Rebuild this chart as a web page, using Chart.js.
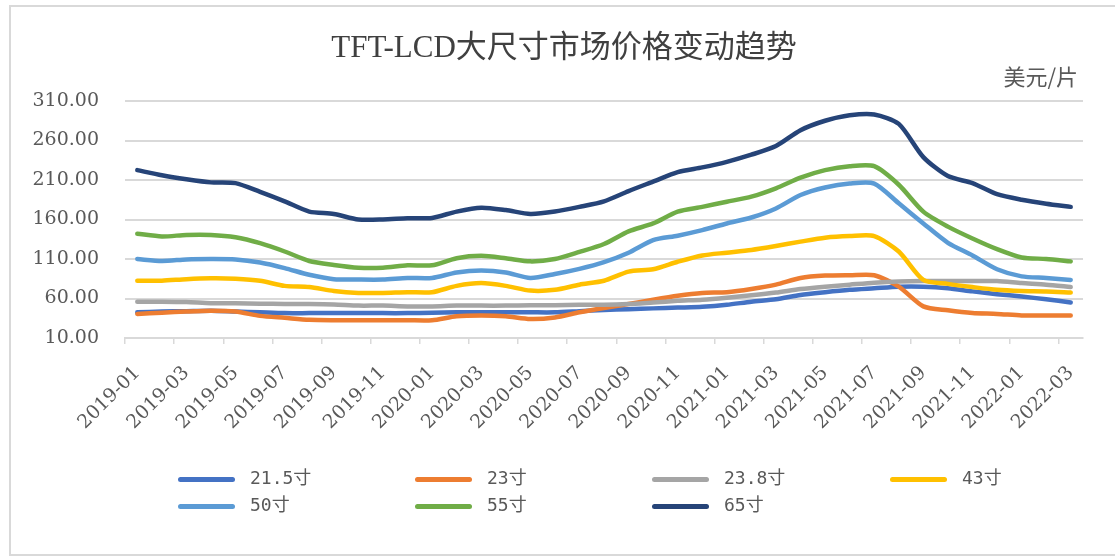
<!DOCTYPE html>
<html>
<head>
<meta charset="utf-8">
<script src="https://cdn.jsdelivr.net/npm/chart.js@4.4.0/dist/chart.umd.min.js"></script>
<style>
  body { margin: 0; background: #fff; }
  #wrap { position: relative; width: 1115px; height: 557px; overflow: hidden; }
  #frame { position: absolute; left: 9px; top: 5px; right: -10px; bottom: 1px; border: 2px solid #d9d9d9; }
  canvas { position: absolute; left: 0; top: 0; }
  #title { position: absolute; left: 0; width: 1128px; top: 29px; text-align: center; font: 31px "Liberation Serif", "Noto Sans CJK SC", serif; line-height: 36px; color: #404040; }
  #unit { position: absolute; right: 37px; top: 61px; font: 22px "Noto Sans CJK SC", sans-serif; line-height: 28px; color: #595959; }
  .leg { position: absolute; font: 18px "DejaVu Sans Mono", "Noto Sans CJK SC", monospace; color: #595959; white-space: nowrap; line-height: 24px; }
  .leg i { display: inline-block; width: 57px; height: 5px; border-radius: 3px; vertical-align: middle; margin-right: 15px; }
</style>
</head>
<body>
<div id="wrap">
  <div id="frame"></div>
  <canvas id="chart" width="1115" height="557"></canvas>
  <div id="title">TFT-LCD大尺寸市场价格变动趋势</div>
  <div id="unit">美元/片</div>
  <div id="legend"></div>
</div>
<script>
// months 2019-01 .. 2022-03
const months = [];
for (let y = 2019; y <= 2022; y++) {
  for (let m = 1; m <= 12; m++) {
    if (y === 2022 && m > 3) break;
    months.push(y + '-' + String(m).padStart(2, '0'));
  }
}

const seriesNames = ['21.5寸', '23寸', '23.8寸', '43寸', '50寸', '55寸', '65寸'];
const seriesColors = ['#4472C4', '#ED7D31', '#A5A5A5', '#FFC000', '#5B9BD5', '#70AD47', '#264478'];

const s215 = [42.5, 43.5, 44, 44.5, 43.5, 42.5, 41.5, 41.5, 41.5, 41.5, 41.5, 41.5, 42, 42.5, 42.5, 42.5, 42.5, 42.5, 44, 45.5, 46.5, 47.5, 48.5, 49.5, 52, 56, 59, 64.5, 68, 71, 73, 75, 75, 73, 69, 65.5, 62.5, 59, 55];
const s23 = [40.5, 42, 43.5, 44.5, 43.5, 38, 35.5, 33, 32.5, 32.5, 32.5, 32.5, 32.5, 37.5, 38.5, 37.5, 34, 36, 42.5, 48, 53, 58.5, 63.5, 67, 68, 72, 77.5, 86, 89, 89.5, 89.5, 75, 50, 45, 41.5, 40.5, 38.5, 38.5, 38.5];
const s238 = [56, 56, 55.5, 54, 54, 53.5, 53, 53, 52.5, 51, 51, 50, 50, 51, 51, 51, 51.5, 51.5, 52, 52, 53, 55, 57, 58.5, 61, 64, 67.5, 72, 75, 77.5, 80, 81.5, 82, 82, 82, 82, 79.5, 77.5, 74.5];
const s43 = [82.5, 82.5, 84.5, 85.5, 85, 82.5, 76, 74.5, 69.5, 67, 67, 68, 68, 76, 79.5, 76, 70, 71, 77.5, 82.5, 94, 97, 106.5, 114.5, 118, 121.5, 126.5, 132, 137, 139, 139, 119.5, 83.5, 78.5, 74.5, 71, 69.5, 69, 67.5];
const s50 = [110, 107.5, 109.5, 110, 109.5, 105.5, 98.5, 90, 84.5, 84, 84, 86, 86, 93, 95.5, 93, 86, 91, 97.5, 106, 118, 134, 139.5, 146.5, 155, 162.5, 174, 191, 200.5, 205.5, 205.5, 180.5, 155, 130.5, 114.5, 97, 88, 86, 83.5];
const s55 = [142, 138.5, 140.5, 140.5, 137.5, 130, 119.5, 107.5, 102.5, 99, 99, 102, 102, 111, 114, 111, 107, 110, 119, 129, 145, 155, 170, 176, 182.5, 189, 199.5, 213, 222.5, 227.5, 227.5, 204, 170, 151, 136, 122.5, 112, 110, 107];
const s65 = [222.5, 216, 211, 207, 206, 195, 183, 170, 167, 160, 160, 161.5, 162, 170, 175, 172, 167, 170, 176, 183, 196, 208, 220, 226, 233, 242, 253, 273, 285, 292, 293, 281, 239, 215, 206, 192, 185, 180, 176];

const seriesData = [s215, s23, s238, s43, s50, s55, s65];
const yTicks = [10, 60, 110, 160, 210, 260, 310];

const datasets = seriesData.map((d, i) => ({
  label: seriesNames[i],
  data: d,
  borderColor: seriesColors[i],
  backgroundColor: seriesColors[i],
  borderWidth: 4.5,
  pointRadius: 0,
  tension: 0.25,
  borderCapStyle: 'round',
  borderJoinStyle: 'round',
  order: seriesData.length - 1 - i
}));

const ctx = document.getElementById('chart').getContext('2d');
new Chart(ctx, {
  type: 'line',
  data: { labels: months, datasets: datasets },
  options: {
    responsive: false,
    animation: false,
    layout: { padding: { left: 0, right: 32, top: 101, bottom: 119 } },
    plugins: {
      legend: { display: false },
      tooltip: { enabled: false }
    },
    scales: {
      x: {
        offset: true,
        afterFit: (scale) => { scale.height = 100; },
        grid: {
          offset: true,
          drawOnChartArea: false,
          tickLength: 6,
          lineWidth: 1.5,
          color: (c) => (c.index % 2 === 0 ? '#d9d9d9' : 'rgba(0,0,0,0)')
        },
        border: { display: true, color: '#d9d9d9', width: 2 },
        ticks: {
          autoSkip: false,
          maxRotation: 45,
          minRotation: 45,
          padding: 18,
          color: '#595959',
          font: { family: '"DejaVu Serif"', size: 19 },
          callback: function (v, i) { return i % 2 === 0 ? months[i] : ''; }
        }
      },
      y: {
        min: yTicks[0],
        max: yTicks[yTicks.length - 1],
        afterFit: (scale) => { scale.width = 125; },
        afterBuildTicks: (scale) => { scale.ticks = yTicks.map(v => ({ value: v })); },
        grid: { color: '#d9d9d9', lineWidth: 2, drawTicks: false },
        border: { display: false },
        ticks: {
          padding: 26,
          color: '#595959',
          font: { family: '"DejaVu Serif"', size: 19 },
          callback: (v) => Number(v).toFixed(2)
        }
      }
    }
  }
});

// legend in 4 columns like the original
const legCols = [178, 415, 652, 890];
const legRows = [478, 505];
const legend = document.getElementById('legend');
seriesNames.forEach((name, i) => {
  const el = document.createElement('div');
  el.className = 'leg';
  el.style.left = legCols[i % 4] + 'px';
  el.style.top = (legRows[Math.floor(i / 4)] - 12) + 'px';
  el.innerHTML = '<i style="background:' + seriesColors[i] + '"></i>' + name;
  legend.appendChild(el);
});
</script>
</body>
</html>
